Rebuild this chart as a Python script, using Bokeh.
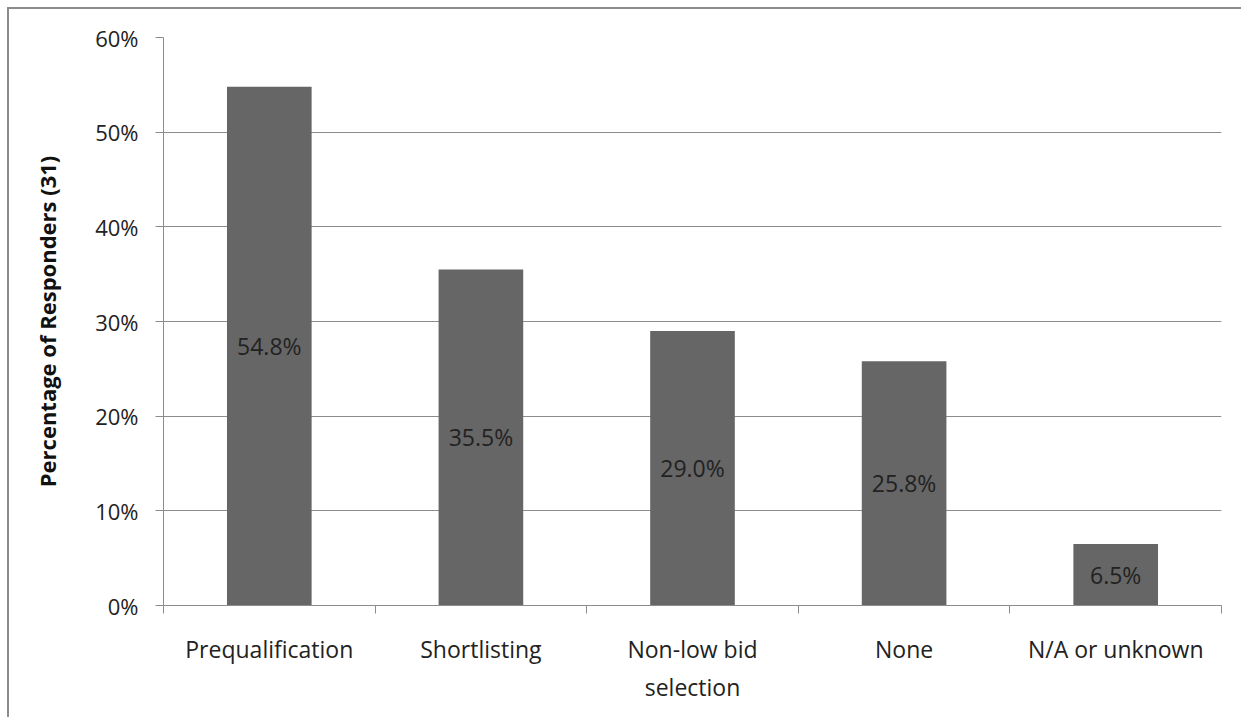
from bokeh.plotting import figure
from bokeh.models import ColumnDataSource, FixedTicker, NumeralTickFormatter
from bokeh.core.properties import value
from bokeh.embed import file_html
from bokeh.resources import INLINE

categories = ["Prequalification", "Shortlisting", "Non-low bid\nselection", "None", "N/A or unknown"]
percentages = [54.8, 35.5, 29.0, 25.8, 6.5]
y_ticks = [0, 10, 20, 30, 40, 50, 60]

FONT = "Open Sans"
GRAY = "#8c8c8c"

xs = [i + 0.5 for i in range(len(categories))]
src = ColumnDataSource(dict(
    x=xs,
    top=[v / 100 for v in percentages],
    mid=[v / 200 for v in percentages],
    label=[f"{v:.1f}%" for v in percentages],
))

p = figure(width=1234, height=710, output_backend="svg", toolbar_location=None,
           x_range=(0, len(categories)), y_range=(0, 0.6),
           min_border_left=154, min_border_right=22, min_border_top=28, min_border_bottom=114)
p.margin = (7, 0, 0, 7)
p.styles = {"border-left": f"2px solid {GRAY}", "border-top": f"2px solid {GRAY}"}

p.vbar(x="x", top="top", width=0.4, bottom=0, source=src, fill_color="#666666", line_color=None)
p.text(x="x", y="mid", text="label", source=src, text_align="center", text_baseline="middle",
       text_font=value(FONT), text_font_size="23px", text_color="#222222")

p.outline_line_color = None
p.background_fill_color = "white"
p.border_fill_color = "white"

# y axis
p.yaxis.ticker = FixedTicker(ticks=[t / 100 for t in y_ticks])
p.yaxis.formatter = NumeralTickFormatter(format="0%")
p.yaxis.axis_label = "Percentage of Responders (31)"
p.yaxis.axis_label_text_font = FONT
p.yaxis.axis_label_text_font_style = "bold"
p.yaxis.axis_label_text_font_size = "22px"
p.yaxis.axis_label_text_color = "#111111"
p.yaxis.axis_label_standoff = 30
p.yaxis.major_label_text_font = FONT
p.yaxis.major_label_text_font_size = "22px"
p.yaxis.major_label_text_color = "#222222"
p.yaxis.major_label_standoff = 17
p.yaxis.axis_line_color = GRAY
p.yaxis.major_tick_line_color = GRAY
p.yaxis.major_tick_out = 8
p.yaxis.major_tick_in = 0
p.yaxis.minor_tick_line_color = None

# x axis
p.xaxis.ticker = FixedTicker(ticks=xs, minor_ticks=list(range(len(categories) + 1)))
p.xaxis.major_label_overrides = {x: c for x, c in zip(xs, categories)}
p.xaxis.major_label_text_font = FONT
p.xaxis.major_label_text_font_size = "23px"
p.xaxis.major_label_text_color = "#222222"
p.xaxis.major_label_standoff = 19
p.xaxis.major_tick_line_color = None
p.xaxis.minor_tick_line_color = GRAY
p.xaxis.minor_tick_out = 8
p.xaxis.minor_tick_in = 0
p.xaxis.axis_line_color = GRAY

p.xgrid.grid_line_color = None
p.ygrid.grid_line_color = GRAY

open("out.html", "w").write(file_html(p, INLINE))
